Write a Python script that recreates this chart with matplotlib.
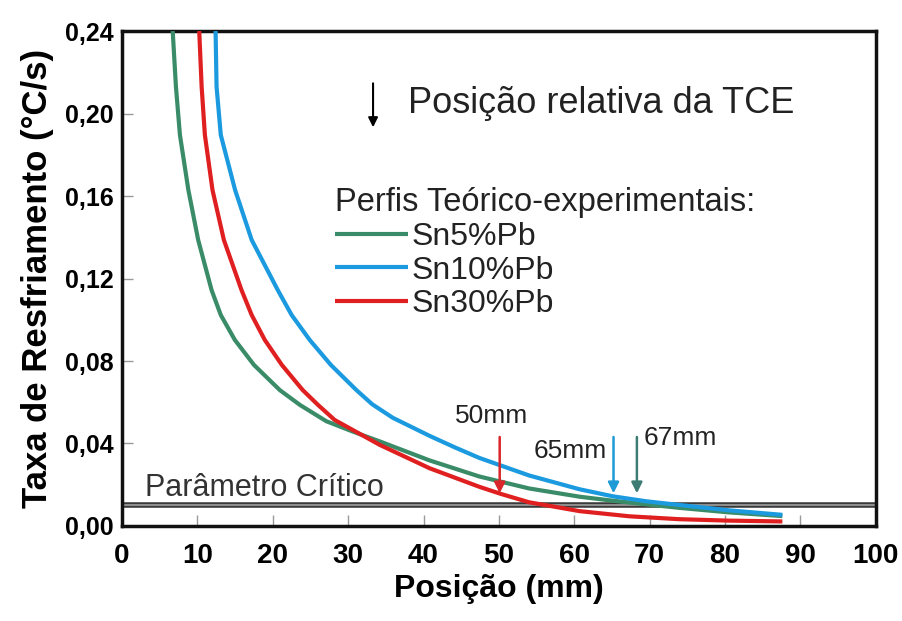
import matplotlib.pyplot as plt
from matplotlib.ticker import FixedLocator, FuncFormatter

# cooling rate profiles (position mm, rate C/s)
green_x = [6.72, 7.15, 7.68, 8.8, 10.1, 11.88, 13.1, 14.97, 17.5, 20.93, 23.6, 27.1, 30.6, 34.2, 40.8, 47.4, 54.0, 60.7, 65.0, 68.3, 73.9, 80.5, 87.6]
green_y = [0.240, 0.213, 0.1896, 0.1629, 0.1387, 0.1144, 0.1023, 0.0902, 0.0781, 0.0659, 0.0587, 0.0508, 0.0458, 0.0410, 0.0318, 0.0240, 0.0182, 0.0142, 0.0123, 0.0110, 0.0088, 0.0066, 0.0048]

blue_x = [12.41, 12.54, 13.1, 15.0, 17.2, 20.66, 22.5, 24.9, 27.7, 31.09, 33.2, 35.9, 40.8, 44.1, 47.4, 54.0, 60.7, 65.1, 69.5, 73.9, 80.5, 87.6]
blue_y = [0.240, 0.213, 0.1896, 0.1629, 0.1387, 0.1144, 0.1023, 0.0902, 0.0781, 0.0659, 0.0590, 0.0525, 0.0437, 0.0382, 0.0330, 0.0245, 0.0178, 0.0144, 0.0120, 0.0102, 0.0076, 0.0054]

red_x = [10.24, 10.56, 10.99, 12.0, 13.51, 15.85, 17.2, 18.94, 21.2, 23.97, 26.0, 28.21, 34.2, 40.8, 47.4, 50.3, 54.0, 60.7, 67.3, 73.9, 80.5, 87.6]
red_y = [0.240, 0.213, 0.1896, 0.1629, 0.1387, 0.1144, 0.1023, 0.0902, 0.0781, 0.0659, 0.0587, 0.0514, 0.0393, 0.0280, 0.0190, 0.0155, 0.0115, 0.0072, 0.0047, 0.0033, 0.0026, 0.0022]

labels = ["Sn5%Pb", "Sn10%Pb", "Sn30%Pb"]
colors = ["#3a8c68", "#1b9ae0", "#e02020"]

critical = 0.01
tce_pos = [50.1, 65.2, 68.3]          # arrow positions (mm)
tce_tip = [0.0145, 0.0145, 0.0145]
tce_text = ["50mm", "65mm", "67mm"]
tce_text_xy = [(49, 0.0533), (59.5, 0.0364), (74, 0.0427)]
tce_color = ["#d9262a", "#1e9ad6", "#3d7c72"]

x_ticks = [0, 10, 20, 30, 40, 50, 60, 70, 80, 90, 100]
y_ticks = [0.00, 0.04, 0.08, 0.12, 0.16, 0.20, 0.24]

plt.rcParams['font.family'] = ['Liberation Sans', 'DejaVu Sans']

fig = plt.figure(figsize=(9.02, 6.21), dpi=100)
ax = fig.add_axes([0.1353, 0.1530, 0.8357, 0.797])

ax.axhline(critical, color="#3a3a3a", lw=4, zorder=2)
ax.axhline(critical, color="#a0a0a0", lw=1.2, zorder=2)
ax.text(3.0, 0.0185, "Parâmetro Crítico", fontsize=22, color="#333333", va="center")

for xs, ys, lab, c in zip([green_x, blue_x, red_x], [green_y, blue_y, red_y], labels, colors):
    ax.plot(xs, ys, color=c, lw=3, label=lab, zorder=3, solid_capstyle="butt", solid_joinstyle="round")

# TCE arrows
for px, ty, c, t, (lx, ly) in zip(tce_pos, tce_tip, tce_color, tce_text, tce_text_xy):
    ax.annotate("", xy=(px, ty), xytext=(px, 0.0445),
                arrowprops=dict(arrowstyle="-|>", color=c, lw=1.8, mutation_scale=16), zorder=4)
    ax.text(lx, ly, t, fontsize=19, color="#222222", ha="center", va="center")

ax.annotate("", xy=(33.3, 0.192), xytext=(33.3, 0.216),
            arrowprops=dict(arrowstyle="-|>", color="black", lw=1.5, mutation_scale=14))
ax.text(37.9, 0.2047, "Posição relativa da TCE", fontsize=26, color="#222222", va="center")

leg = ax.legend(loc="upper left", bbox_to_anchor=(0.282, 0.685), frameon=False,
                title="Perfis Teórico-experimentais:", fontsize=23, title_fontsize=23.5,
                handlelength=2.3, handletextpad=0.12, labelspacing=0.12,
                borderpad=0, borderaxespad=0, alignment="left")
for t in leg.get_texts():
    t.set_color("#222222")
leg.get_title().set_color("#222222")

ax.set_xlim(0, 100)
ax.set_ylim(0, 0.24)
ax.xaxis.set_major_locator(FixedLocator(x_ticks))
ax.yaxis.set_major_locator(FixedLocator(y_ticks))
ax.yaxis.set_major_formatter(FuncFormatter(lambda v, p: f"{v:.2f}".replace(".", ",")))
ax.tick_params(direction="in", length=8, width=1, color="#999999")
ax.tick_params(axis="x", pad=12, labelsize=20)
ax.tick_params(axis="y", pad=6, labelsize=18)
for lab in ax.get_xticklabels() + ax.get_yticklabels():
    lab.set_fontweight("bold")

for s in ax.spines.values():
    s.set_linewidth(2.5)
    s.set_color("#111111")

ax.set_xlabel("Posição (mm)", fontsize=23, fontweight="bold", labelpad=4)
ax.set_ylabel("Taxa de Resfriamento (°C/s)", fontsize=25, fontweight="bold", labelpad=8)

fig.savefig("out.png", dpi=100)
